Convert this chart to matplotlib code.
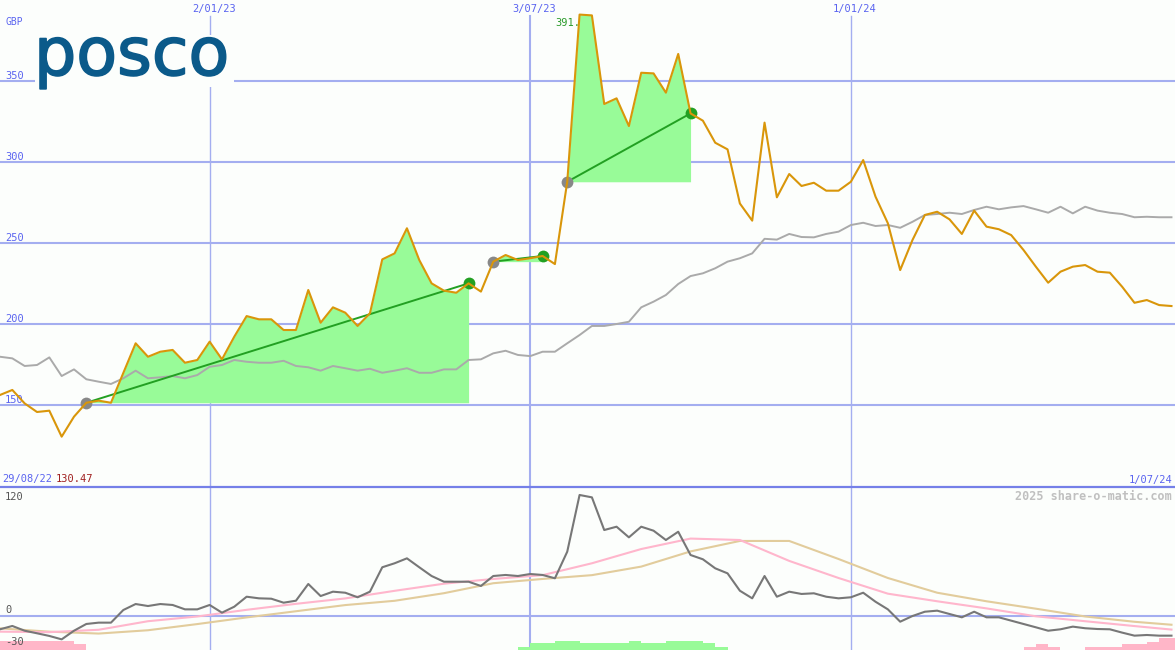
import numpy as np
import pandas as pd
import matplotlib
matplotlib.use('Agg')
from matplotlib import pyplot as plt
import matplotlib.transforms as mtransforms
import matplotlib.patheffects as pe
from matplotlib.patches import Rectangle
from matplotlib.lines import Line2D

# weekly closes, GBP
dates = pd.date_range('2022-09-05', periods=96, freq='7D')
price = np.array([
    156.2, 159.3, 151.0, 145.7, 146.5, 130.47, 142.8, 151.4, 152.7, 151.4,
    169.8, 188.1, 179.8, 182.9, 184.0, 176.1, 177.8, 189.1, 178.2, 192.2,
    204.9, 202.9, 202.9, 196.3, 196.3, 221.0, 200.8, 210.3, 207.0, 198.8,
    206.6, 239.9, 243.6, 259.1, 239.5, 225.1, 220.6, 219.3, 225.1, 220.0,
    238.5, 242.6, 239.5, 240.6, 242.0, 237.0, 287.8, 391.0, 390.5, 335.8,
    339.3, 322.2, 355.1, 354.7, 342.8, 366.7, 330.0, 325.5, 311.9, 307.8,
    274.4, 263.8, 324.3, 278.2, 292.6, 285.2, 287.2, 282.3, 282.3, 287.8,
    301.2, 278.6, 262.2, 233.3, 251.9, 267.3, 269.3, 264.6, 255.6, 270.0,
    260.1, 258.5, 254.9, 245.7, 235.4, 225.5, 232.3, 235.4, 236.4, 232.3,
    231.7, 223.0, 213.1, 214.8, 211.7, 211.1])
# grey comparison line
bench = np.array([
    179.8, 178.8, 174.1, 174.7, 179.4, 167.9, 172.0, 165.9, 164.4, 163.0,
    166.5, 171.2, 166.5, 167.1, 167.9, 166.5, 168.5, 173.6, 174.7, 177.8,
    176.7, 176.1, 176.1, 177.3, 174.1, 173.3, 171.2, 174.1, 172.7, 171.2,
    172.4, 169.9, 171.2, 172.7, 169.9, 169.9, 172.0, 172.0, 177.8, 178.2,
    181.9, 183.5, 180.9, 180.2, 182.9, 182.9, 188.1, 193.2, 198.8, 198.8,
    200.0, 201.4, 210.3, 213.8, 217.9, 224.7, 229.6, 231.3, 234.4, 238.5,
    240.6, 243.6, 252.6, 252.1, 255.6, 253.7, 253.5, 255.6, 257.0, 261.1,
    262.5, 260.5, 261.1, 259.4, 263.1, 267.3, 267.9, 268.7, 267.9, 270.4,
    272.4, 270.8, 272.0, 272.8, 270.8, 268.7, 272.4, 268.3, 272.4, 270.0,
    268.7, 267.9, 265.9, 266.2, 265.9, 265.9])
# lower panel oscillator
momentum = np.array([
    -14, -10.5, -15.5, -18.2, -21, -24.6, -15.5, -8.4, -7, -7,
    6.3, 12.6, 10.5, 12.6, 11.6, 7, 7, 11.6, 3.5, 9.8,
    20.3, 18.6, 18.2, 14, 16.1, 33.7, 21, 25.6, 24.5, 19.7,
    25.6, 51.3, 55.5, 60.7, 51.3, 42.1, 36.1, 36.1, 36.1, 31.6,
    42.1, 43.2, 42.1, 44.2, 43.2, 39.7, 67.7, 127.4, 124.9, 90.5,
    94, 82.8, 94, 89.8, 80, 88.7, 64.2, 59.7, 50.2, 44.9,
    26.6, 18.6, 42.1, 20.3, 25.6, 23.2, 23.9, 20.3, 18.6, 19.7,
    24.5, 15, 7, -6, 0, 4.5, 5.6, 2.1, -1.4, 4.5,
    -1.4, -1.4, -4.9, -8.4, -11.9, -15.5, -14, -11.2, -12.9, -13.7,
    -14, -17.5, -20.7, -20, -20.7, -20.7])
# smoothed lines, read every 4 weeks
avg_idx = list(range(0, 96, 4)) + [95]
fast_avg = [-16.5, -17, -14.5, -5.5, -0.5, 6.5, 12.8, 18.5, 26.5, 34, 39, 43, 55.5,
            70.5, 81.5, 80, 58, 40, 23.5, 15.5, 8, -0.3, -5.5, -10.6, -14.3]
slow_avg = [-13, -16.5, -18.5, -15, -8.5, -1.5, 5, 11.5, 16, 24, 34.5, 39, 43,
            52, 68, 79, 79, 60, 40, 24.5, 15.5, 7.7, -0.5, -6.1, -9.2]
# signal bars
up_idx = list(range(42, 59))
up_h = [3.5, 7, 7, 9.8, 9.8, 7, 7, 7, 7, 9.8, 7, 7, 9.8, 9.8, 9.8, 7, 3.5]
down_idx = [0, 1, 2, 3, 4, 5, 6, 83, 84, 85, 88, 89, 90, 91, 92, 93, 94, 95]
down_h = [9.8, 9.8, 9.8, 9.8, 9.8, 9.8, 6.3, 2.8, 6.3, 2.8, 2.8, 2.8, 2.8,
          6.3, 6.3, 8.7, 12.3, 12.3]
# trend segments (start week, end week)
trends = [(7, 38), (40, 44), (46, 56)]

grid_dates = pd.to_datetime(['2023-01-02', '2023-07-03', '2024-01-01'])
grid_labels = ['2/01/23', '3/07/23', '1/01/24']
grid_lw = [1.0, 1.5, 1.0]
yticks = [150, 200, 250, 300, 350]
lticks = [120, 0, -30]
lticks_dy = [2, 3, -1]

bg = '#fcfefc'
blue_txt = '#5a64f0'
grid_c = '#a4aef0'
mono = 'DejaVu Sans Mono'

fig = plt.figure(figsize=(11.75, 6.5), dpi=100)
fig.patch.set_facecolor(bg)
ax = fig.add_axes([0, 163 / 650, 1, 487 / 650])
ax2 = fig.add_axes([0, 0, 1, 163 / 650])
xmax = dates[0] + pd.Timedelta(days=667)
for a in (ax, ax2):
    a.set_facecolor(bg)
    a.set_xlim(dates[0], xmax)
    a.axis('off')
ax.set_ylim(99.4, 400)
ax2.set_ylim(-35.8, 135.8)

# ---- top panel ----
for v in yticks:
    ax.axhline(v, color=grid_c, lw=1.5, zorder=0)
    ax.text(0.0043, v, str(v), color=blue_txt, fontsize=7.5, family=mono, va='baseline',
            transform=mtransforms.offset_copy(ax.get_yaxis_transform(), fig=fig, x=0, y=2, units='dots'))
for d, lab, lw in zip(grid_dates, grid_labels, grid_lw):
    ax.axvline(d, ymax=1 - 16 / 487, color=grid_c, lw=lw, zorder=0)
    ax2.axvline(d, color=grid_c, lw=lw, zorder=0)
    ax.text(d, 1 - 12 / 487, lab, color=blue_txt, fontsize=7.5, family=mono, ha='center', va='baseline',
            transform=mtransforms.offset_copy(ax.get_xaxis_transform(), fig=fig, x=4, y=0, units='dots'))

for s, e in trends:
    seg = price[s:e + 1]
    ax.fill_between(dates[s:e + 1], price[s], seg, where=seg >= price[s], interpolate=True,
                    color='#98fb98', lw=0, zorder=1)

ax.plot(dates, bench, color='#aaaaaa', lw=1.4, zorder=2)
for s, e in trends:
    ax.plot([dates[s], dates[e]], [price[s], price[e]], color='#22a022', lw=1.4, zorder=3)
    ax.plot(dates[s], price[s], 'o', ms=8.5, color='#888888', mec='none', zorder=4)
    ax.plot(dates[e], price[e], 'o', ms=8.5, color='#22a022', mec='none', zorder=4)
ax.plot(dates, price, color='#d9960a', lw=1.5, zorder=5)

top = int(np.argmax(price))
ax.text(dates[top], price[top], '%d.' % round(price[top]), color='#2a9a2a', fontsize=7.5, family=mono,
        ha='right', va='baseline',
        transform=mtransforms.offset_copy(ax.transData, fig=fig, x=1, y=-11, units='dots'))

# ---- lower panel ----
ax2.axhline(0, color=grid_c, lw=1.5, zorder=0)
for v, dy in zip(lticks, lticks_dy):
    ax2.text(0.0043, v, str(v), color='#555555', fontsize=7.5, family=mono, va='baseline', zorder=6,
             transform=mtransforms.offset_copy(ax2.get_yaxis_transform(), fig=fig, x=0, y=dy, units='dots'))
ax2.bar(dates[up_idx], up_h, width=7, align='edge', bottom=-35.8, color='#98fb98', lw=0, zorder=1)
ax2.bar(dates[down_idx], down_h, width=7, align='edge', bottom=-35.8, color='#ffb6c8', lw=0, zorder=1)
ax2.plot(dates[avg_idx], slow_avg, color='#e2cc9c', lw=1.5, zorder=2)
ax2.plot(dates[avg_idx], fast_avg, color='#ffb6cc', lw=1.5, zorder=3)
ax2.plot(dates, momentum, color='#777777', lw=1.5, zorder=4)

# separator between panels
fig.add_artist(Line2D([0, 1], [163 / 650, 163 / 650], transform=fig.transFigure, color='#7580e8', lw=1.6))

# ---- labels ----
def fx(x):
    return x / 1175

def fy(y):
    return 1 - y / 650

fig.text(fx(5), fy(25), 'GBP', color=blue_txt, fontsize=7, family=mono, va='baseline')
fig.text(fx(2), fy(482), '29/08/22', color=blue_txt, fontsize=7.5, family=mono, va='baseline')
fig.text(fx(56), fy(482), '130.47', color='#a02020', fontsize=7.5, family=mono, va='baseline')
fig.text(fx(1172), fy(483), '1/07/24', color=blue_txt, fontsize=7.5, family=mono, va='baseline', ha='right')
fig.text(fx(1172), fy(500), '2025 share-o-matic.com', color='#c0c0c0', fontsize=8.5, family=mono,
         weight='bold', va='baseline', ha='right')

# logo
fig.add_artist(Rectangle((fx(35), fy(87)), 199 / 1175, 52 / 650, transform=fig.transFigure,
                         facecolor=bg, edgecolor='none', zorder=1))
fig.text(fx(34), fy(75), 'posco', color='#0b5a8a', fontsize=48, family='DejaVu Sans', va='baseline',
         zorder=5, path_effects=[pe.withStroke(linewidth=1.2, foreground='#0b5a8a')])

fig.savefig('out.png', dpi=100, facecolor=bg)
